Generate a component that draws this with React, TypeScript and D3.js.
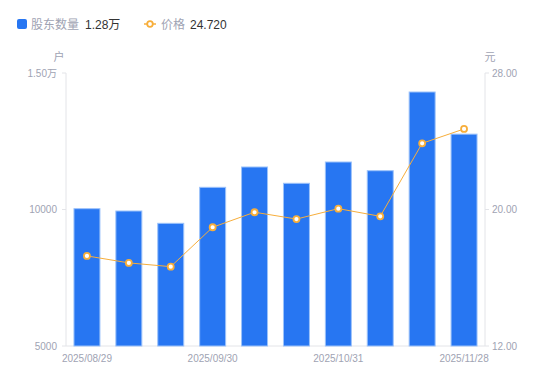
import React from "react";
import * as d3 from "d3";

const categories = ["2025/08/29","2025/09/05","2025/09/12","2025/09/30","2025/10/10","2025/10/17","2025/10/31","2025/11/07","2025/11/14","2025/11/28"];
const holders = [10030, 9945, 9494, 10813, 11557, 10960, 11740, 11421, 14304, 12760];
const prices = [17.28, 16.87, 16.65, 18.96, 19.84, 19.44, 20.05, 19.60, 23.88, 24.72];
const leftTicks = [5000, 10000, 15000];
const rightTicks = [12, 20, 28];
const xLabelIdx = [0, 3, 6, 9];

const W = 550, H = 381;
const L = 66, R = 485, T = 73, B = 346;
const FONT = "'Liberation Sans', 'Noto Sans CJK SC', sans-serif";
const BLUE = "#2776f2";
const ORANGE = "#f7ae3b";
const GRAY = "#a0a3b3";

export default function App() {
  const x = d3.scaleBand<string>().domain(categories).range([L, R]).paddingInner(0.38).paddingOuter(0.19);
  const xc = (i: number) => (x(categories[i]) as number) + x.bandwidth() / 2;
  const yl = d3.scaleLinear().domain([5000, 15000]).range([B, T]);
  const yr = d3.scaleLinear().domain([12, 28]).range([B, T]);
  const line = d3.line<number>().x((_, i) => xc(i)).y((d) => yr(d));
  const fmtL = (v: number) => (v >= 15000 ? (v / 10000).toFixed(2) + "万" : String(v));
  return (
    <svg width={W} height={H} style={{ position: "absolute", left: 0, top: 0, fontFamily: FONT }}>
      {/* legend */}
      <rect x={17} y={19} width={10} height={10} rx={2} fill={BLUE} />
      <text x={31} y={29} fontSize={12} fill={GRAY}>股东数量</text>
      <text x={85} y={29} fontSize={12} fill="#333">1.28万</text>
      <line x1={144} x2={156} y1={24} y2={24} stroke={ORANGE} strokeWidth={1.5} />
      <circle cx={150} cy={24} r={2.8} fill="#fff" stroke={ORANGE} strokeWidth={1.8} />
      <text x={161} y={29} fontSize={12} fill={GRAY}>价格</text>
      <text x={190} y={29} fontSize={12} fill="#333">24.720</text>
      {/* units */}
      <text x={59} y={61} fontSize={11} fill={GRAY} textAnchor="middle">户</text>
      <text x={490} y={61} fontSize={11} fill={GRAY} textAnchor="middle">元</text>
      {/* axes */}
      <line x1={L} x2={L} y1={T} y2={B} stroke="#e3e4e8" />
      <line x1={R} x2={R} y1={T} y2={B} stroke="#e3e4e8" />
      <line x1={L} x2={R} y1={B} y2={B} stroke="#e3e4e8" />
      {leftTicks.map((t) => (
        <g key={"l" + t}>
          <line x1={L - 4} x2={L} y1={yl(t)} y2={yl(t)} stroke="#e3e4e8" />
          <text x={L - 9} y={yl(t) + 3.5} fontSize={10} fill={GRAY} textAnchor="end">{fmtL(t)}</text>
        </g>
      ))}
      {rightTicks.map((t) => (
        <g key={"r" + t}>
          <line x1={R} x2={R + 4} y1={yr(t)} y2={yr(t)} stroke="#e3e4e8" />
          <text x={R + 7} y={yr(t) + 3.5} fontSize={10} fill={GRAY}>{t.toFixed(2)}</text>
        </g>
      ))}
      {xLabelIdx.map((i) => (
        <text key={"x" + i} x={xc(i)} y={362} fontSize={10} fill={GRAY} textAnchor="middle">{categories[i]}</text>
      ))}
      {/* bars */}
      {holders.map((v, i) => (
        <rect key={"b" + i} x={x(categories[i]) as number} y={yl(v)} width={x.bandwidth()} height={B - yl(v)}
          fill={BLUE} stroke="#9cc2fa" strokeWidth={1} />
      ))}
      {/* line */}
      <path d={line(prices) || ""} fill="none" stroke={ORANGE} strokeWidth={1} />
      {prices.map((p, i) => (
        <circle key={"p" + i} cx={xc(i)} cy={yr(p)} r={3} fill="#fff" stroke={ORANGE} strokeWidth={1.8} />
      ))}
    </svg>
  );
}
